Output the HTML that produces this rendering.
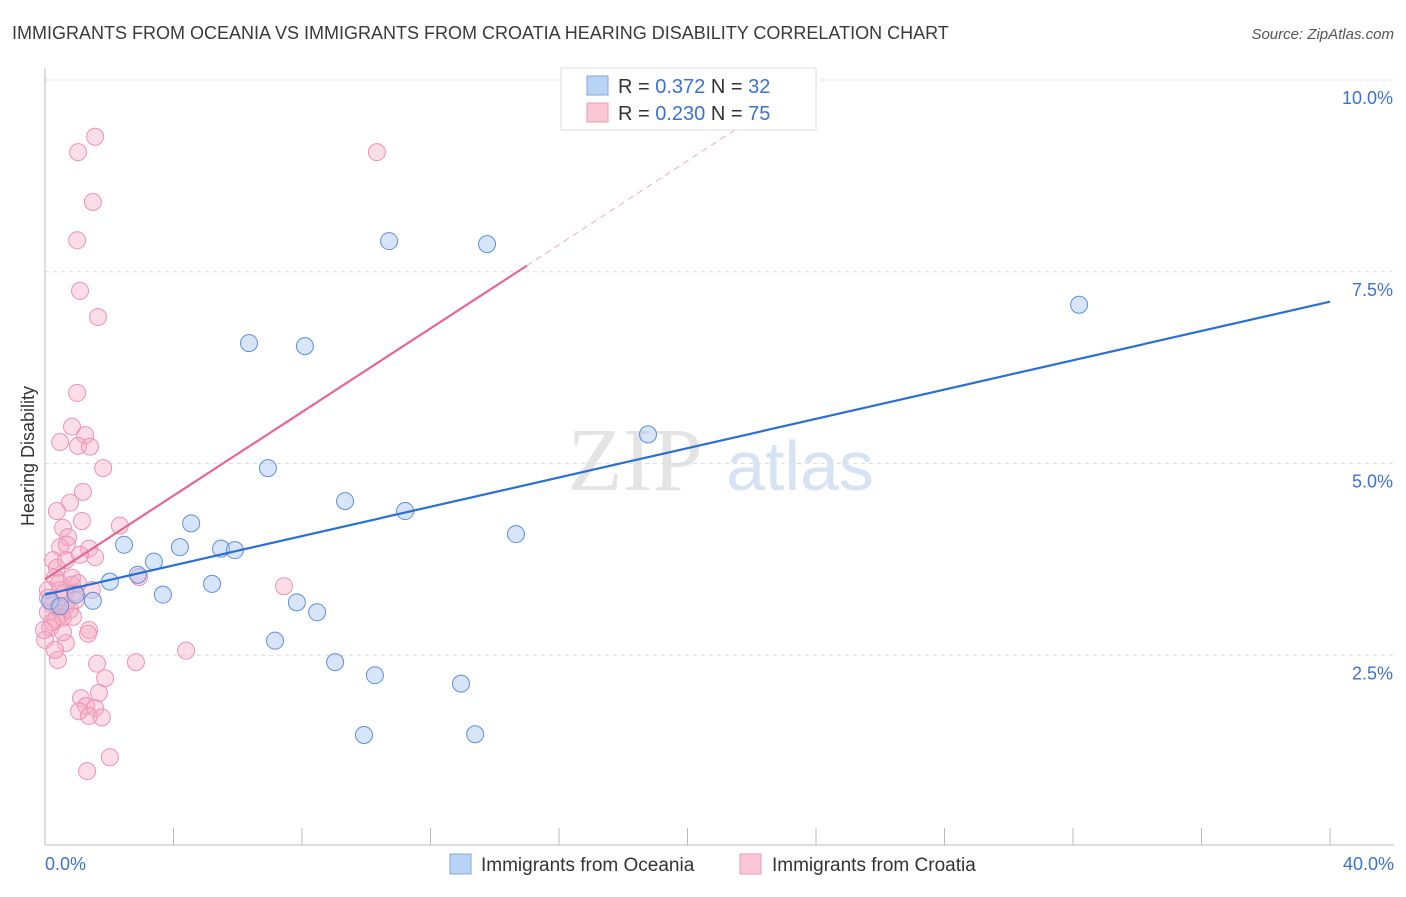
<!DOCTYPE html>
<html><head><meta charset="utf-8"><style>
body{margin:0;background:#fff;font-family:"Liberation Sans",sans-serif}
</style></head><body>
<svg id="c" width="1406" height="892" xmlns="http://www.w3.org/2000/svg">
<text x="12" y="39" font-size="18" fill="#3a3a3a">IMMIGRANTS FROM OCEANIA VS IMMIGRANTS FROM CROATIA HEARING DISABILITY CORRELATION CHART</text>
<text x="1394" y="39" font-size="15" fill="#555" font-style="italic" text-anchor="end">Source: ZipAtlas.com</text>
<text x="34" y="456" font-size="18" fill="#333" transform="rotate(-90 34 456)" text-anchor="middle">Hearing Disability</text>
<text x="635" y="490" font-size="90" fill="#e4e4e4" font-family="Liberation Serif,serif" text-anchor="middle">ZIP</text>
<text x="800" y="490" font-size="70" fill="#d5e3f5" text-anchor="middle">atlas</text>
<g id="grid"></g><g id="pts"></g><g id="lines"></g>
<g>
<rect x="561" y="68" width="255" height="62" fill="#fff" stroke="#ddd"/>
<rect x="587" y="76" width="21" height="19" fill="#b9d3f5" stroke="#7fa9e0"/>
<rect x="587" y="103" width="21" height="19" fill="#f9c7d6" stroke="#ee9ab5"/>
<text x="618" y="93" font-size="20" fill="#333">R = <tspan fill="#3a72d4">0.372</tspan>   N = <tspan fill="#3a72d4">32</tspan></text>
<text x="618" y="120" font-size="20" fill="#333">R = <tspan fill="#3a72d4">0.230</tspan>   N = <tspan fill="#3a72d4">75</tspan></text>
</g>
<g>
<rect x="450" y="854" width="21" height="20" fill="#b9d3f5" stroke="#7fa9e0"/>
<text x="481" y="871" font-size="19" fill="#333">Immigrants from Oceania</text>
<rect x="740" y="854" width="21" height="20" fill="#f9c7d6" stroke="#ee9ab5"/>
<text x="772" y="871" font-size="19" fill="#333">Immigrants from Croatia</text>
</g>
</svg>
<script>
const yTicks=[2.5,5,7.5,10];
const yTickLabels=["2.5%","5.0%","7.5%","10.0%"];
const xTicks=[0,4,8,12,16,20,24,28,32,36,40];
const xEndLabels=["0.0%","40.0%"];
const oceaniaX=[10.71,13.76,32.19,6.35,8.09,18.77,6.94,9.34,11.21,4.55,14.66,2.46,4.20,5.48,5.91,3.39,2.89,2.02,5.20,3.67,0.96,1.49,7.84,8.47,7.16,9.03,10.27,12.95,9.93,13.39,0.16,0.47];
const oceaniaY=[7.90,7.86,7.07,6.57,6.53,5.38,4.94,4.51,4.38,4.22,4.08,3.94,3.91,3.89,3.87,3.72,3.55,3.46,3.43,3.29,3.29,3.21,3.19,3.06,2.69,2.41,2.24,2.13,1.46,1.47,3.21,3.14];
const croatiaPx=[[95,137],[78,152],[377,152],[93,202],[77,240],[80,291],[98,317],[77,393],[72,427],[60,442],[85,435],[78,446],[90,447],[103,468],[83,492],[70,503],[57,511],[82,521],[63,528],[120,526],[68,537],[60,547],[89,549],[67,545],[95,557],[53,560],[57,568],[72,578],[72,585],[55,578],[139,577],[48,590],[60,590],[65,593],[75,592],[52,605],[58,608],[48,612],[62,613],[56,620],[50,628],[63,618],[45,640],[66,643],[89,630],[88,634],[58,660],[97,664],[136,662],[186,651],[284,586],[105,678],[81,698],[99,693],[86,706],[79,711],[95,708],[89,716],[102,717],[110,757],[87,771],[63,632],[48,598],[52,622],[70,610],[76,600],[59,583],[66,560],[78,583],[80,555],[92,590],[55,650],[44,630],[66,606],[73,617]];
const croatiaX=croatiaPx.map(p=>+((p[0]-45)/32.125).toFixed(2));
const croatiaY=croatiaPx.map(p=>+((847-p[1])/76.7).toFixed(2));
const oceaniaTrend=[[0,3.29],[40,7.11]];
const croatiaTrend=[[0,3.49],[15,7.58]];
const croatiaTrendExt=[[15,7.58],[22.5,9.63]];

const X=v=>45+v*1285/40, Y=v=>847-v*76.7;
const NS="http://www.w3.org/2000/svg";
function mk(t,a,p){const e=document.createElementNS(NS,t);for(const k in a)e.setAttribute(k,a[k]);p.appendChild(e);return e;}
const grid=document.getElementById('grid'),pts=document.getElementById('pts'),lines=document.getElementById('lines'),svg=document.getElementById('c');
yTicks.forEach((t,i)=>{
 const l=mk('line',{x1:45,x2:1394,y1:Y(t),y2:Y(t),stroke:'#ddd','stroke-dasharray':'4,4'},grid);
 
 
 const tx=mk('text',{x:1393,y:Y(t)+24,'font-size':18,fill:'#3a72d4','text-anchor':'end'},grid);tx.textContent=yTickLabels[i];
 
 
});
const ax=mk('line',{x1:45,x2:1394,y1:845,y2:845,stroke:'#bbb'},grid);


const ay=mk('line',{x1:45,x2:45,y1:68,y2:845,stroke:'#bbb'},grid);


xTicks.forEach(t=>{const l=mk('line',{x1:X(t),x2:X(t),y1:828,y2:845,stroke:'#bbb'},grid);
 
 });
[[0,45,'start'],[40,1394,'end']].forEach((d,i)=>{const t=mk('text',{x:d[1],y:870,'font-size':18,fill:'#3a72d4','text-anchor':d[2]},grid);t.textContent=xEndLabels[i];
 
 });
croatiaX.forEach((x,i)=>{const c=mk('circle',{cx:X(x),cy:Y(croatiaY[i]),r:8.5,fill:'rgba(246,170,195,0.4)',stroke:'#ec93b1','stroke-width':1},pts);
 
 });
oceaniaX.forEach((x,i)=>{const c=mk('circle',{cx:X(x),cy:Y(oceaniaY[i]),r:8.5,fill:'rgba(168,198,240,0.45)',stroke:'#5b90de','stroke-width':1},pts);
 
 });
const lb=mk('line',{x1:X(oceaniaTrend[0][0]),y1:Y(oceaniaTrend[0][1]),x2:X(oceaniaTrend[1][0]),y2:Y(oceaniaTrend[1][1]),stroke:'#2a6fd6','stroke-width':2.2},lines);


const lp=mk('line',{x1:X(croatiaTrend[0][0]),y1:Y(croatiaTrend[0][1]),x2:X(croatiaTrend[1][0]),y2:Y(croatiaTrend[1][1]),stroke:'#e8678f','stroke-width':2.2},lines);


const le=mk('line',{x1:X(croatiaTrendExt[0][0]),y1:Y(croatiaTrendExt[0][1]),x2:X(croatiaTrendExt[1][0]),y2:Y(croatiaTrendExt[1][1]),stroke:'#f0a8bf','stroke-width':1,'stroke-dasharray':'6,5'},lines);


</script>
</body></html>
